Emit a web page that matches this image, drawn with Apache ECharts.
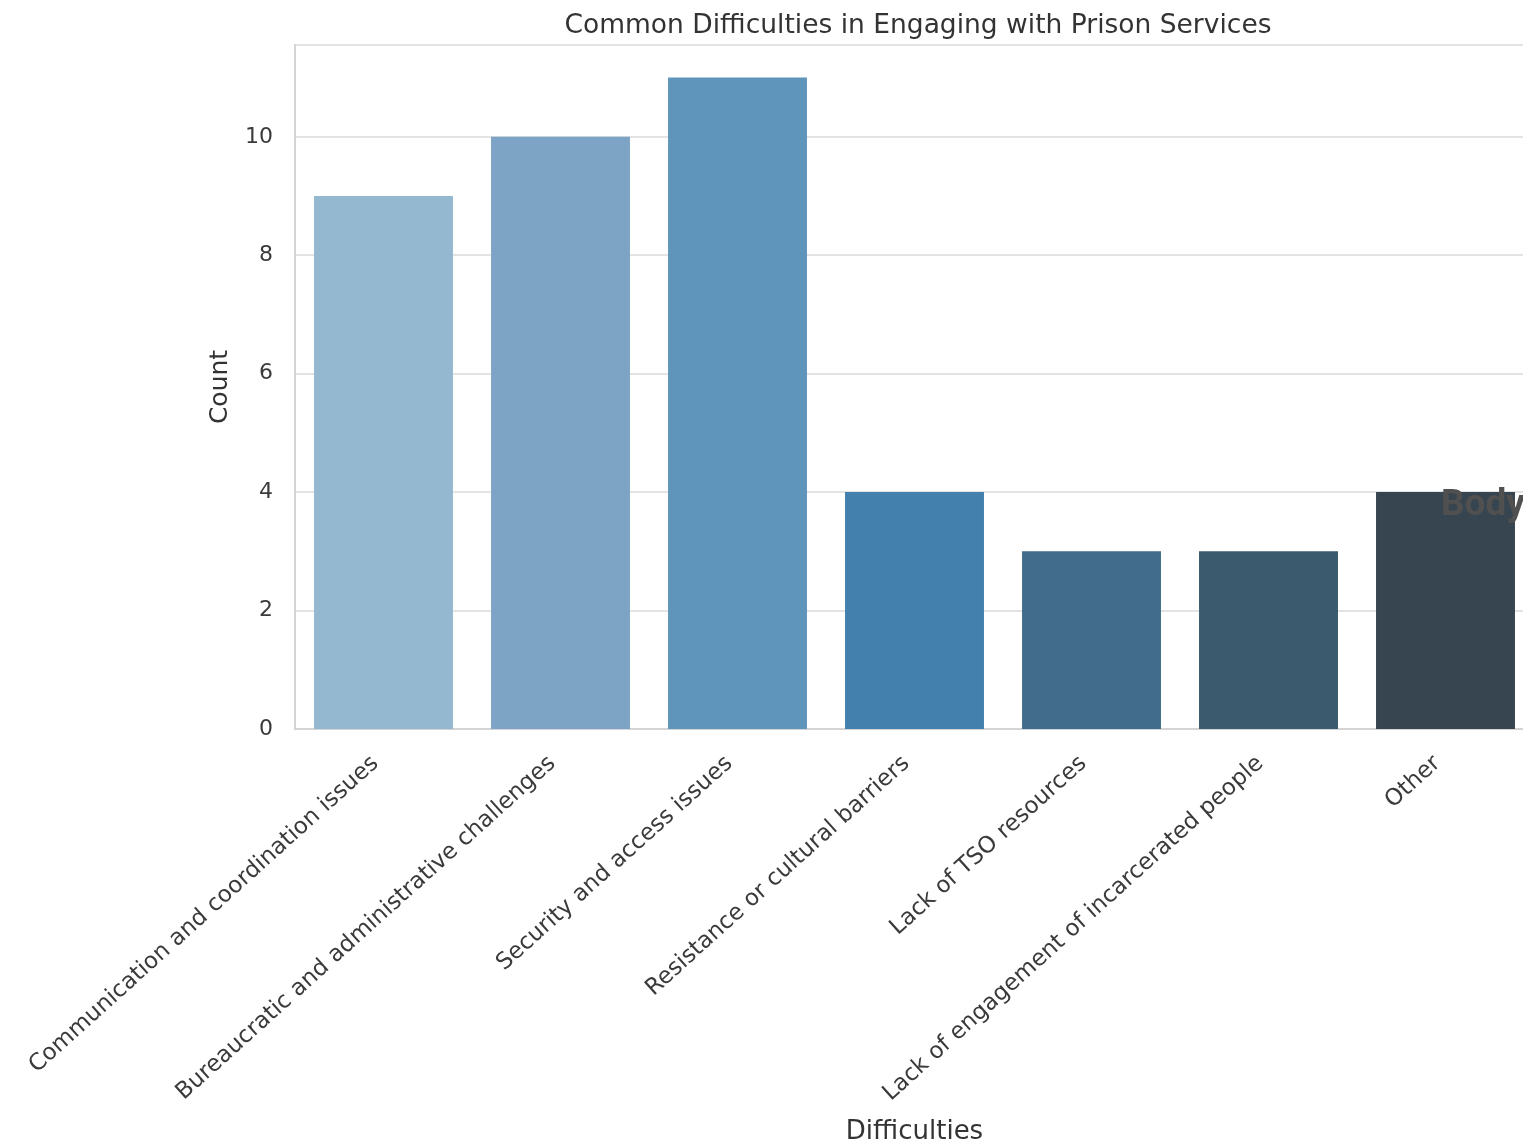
<!DOCTYPE html>
<html>
<head>
<meta charset="utf-8">
<script src="https://cdn.jsdelivr.net/npm/echarts@6/dist/echarts.min.js"></script>
<style>
html,body{margin:0;padding:0;background:#fff;}
#chart{width:1523px;height:1146px;}
</style>
</head>
<body>
<div id="chart"></div>
<script>
const categories = [
  "Communication and coordination issues",
  "Bureaucratic and administrative challenges",
  "Security and access issues",
  "Resistance or cultural barriers",
  "Lack of TSO resources",
  "Lack of engagement of incarcerated people",
  "Other"
];
const counts = [9, 10, 11, 4, 3, 3, 4];
const barColors = ["#95b8d1", "#7ea4c5", "#5f95bb", "#4480ad", "#416c8b", "#3b5a6e", "#36454f"];
const yTicks = [0, 2, 4, 6, 8, 10];

const chart = echarts.init(document.getElementById('chart'));
const font = "DejaVu Sans";
chart.setOption({
  animation: false,
  backgroundColor: '#fff',
  title: {
    text: "Common Difficulties in Engaging with Prison Services",
    left: 913, top: 8, textAlign: 'center',
    textStyle: { fontFamily: font, fontSize: 26.5, fontWeight: 'normal', color: '#333' }
  },
  grid: { left: 295, right: -11, top: 45, bottom: 417, show: true, borderColor: '#d4d4d4', borderWidth: 2, containLabel: false, outerBoundsMode: 'none' },
  xAxis: {
    type: 'category',
    data: categories,
    name: 'Difficulties',
    nameLocation: 'middle',
    nameGap: 390,
    nameTextStyle: { fontFamily: font, fontSize: 26, color: '#333' },
    axisLine: { show: true, lineStyle: { color: '#d4d4d4', width: 2 } },
    axisTick: { show: false },
    axisLabel: { rotate: 42, interval: 0, margin: 24, padding: [0, 11, 0, 0], fontFamily: font, fontSize: 23, color: '#3a3a3a' },
    splitLine: { show: false }
  },
  yAxis: {
    type: 'value',
    min: 0, max: 11.55, interval: 2,
    name: 'Count',
    nameLocation: 'middle',
    nameGap: 62,
    nameTextStyle: { fontFamily: font, fontSize: 25, color: '#333' },
    axisLine: { show: true, lineStyle: { color: '#d4d4d4', width: 2 } },
    axisTick: { show: false },
    axisLabel: {
      margin: 22, fontFamily: font, fontSize: 22, color: '#3a3a3a',
      formatter: v => yTicks.includes(v) ? String(v) : ''
    },
    splitLine: { show: true, lineStyle: { color: '#e3e3e3', width: 2 } }
  },
  series: [{
    type: 'bar',
    data: counts.map((v, i) => ({ value: v, itemStyle: { color: barColors[i] } })),
    barWidth: '78.5%'
  }],
  graphic: [{
    type: 'text',
    left: 1441, top: 487,
    z: 100,
    style: { text: 'Body', fontFamily: 'Roboto', fontSize: 37, fontWeight: 'bold', fill: '#505050' }
  }]
});
</script>
</body>
</html>
